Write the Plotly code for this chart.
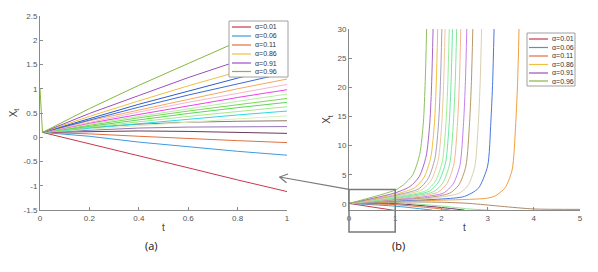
import math
import plotly.graph_objects as go

W, H = 598, 272

# ---------------- data ----------------
alphas = [0.01, 0.06, 0.11, 0.16, 0.21, 0.26, 0.31, 0.36, 0.41, 0.46,
          0.51, 0.56, 0.61, 0.66, 0.71, 0.76, 0.81, 0.86, 0.91, 0.96]
legend_alphas = [0.01, 0.06, 0.11, 0.86, 0.91, 0.96]

# panel (a): X_t at these t values, one row per alpha (ascending)
left_t = [0.01, 0.2, 0.4, 0.6, 0.8, 1.0]
left_x = [
    [0.1, -0.14, -0.39, -0.63, -0.88, -1.12],
    [0.1, 0.02, -0.10, -0.20, -0.29, -0.37],
    [0.1, 0.07, 0.02, -0.03, -0.07, -0.11],
    [0.1, 0.12, 0.13, 0.12, 0.10, 0.08],
    [0.1, 0.15, 0.19, 0.21, 0.22, 0.22],
    [0.1, 0.20, 0.27, 0.31, 0.33, 0.34],
    [0.1, 0.17, 0.24, 0.31, 0.38, 0.44],
    [0.1, 0.19, 0.29, 0.37, 0.46, 0.54],
    [0.1, 0.21, 0.32, 0.43, 0.53, 0.63],
    [0.1, 0.23, 0.36, 0.49, 0.61, 0.72],
    [0.1, 0.25, 0.40, 0.54, 0.67, 0.80],
    [0.1, 0.27, 0.43, 0.59, 0.74, 0.89],
    [0.1, 0.29, 0.47, 0.65, 0.82, 0.98],
    [0.1, 0.31, 0.52, 0.72, 0.91, 1.09],
    [0.1, 0.34, 0.56, 0.78, 1.00, 1.20],
    [0.1, 0.36, 0.62, 0.87, 1.10, 1.33],
    [0.1, 0.39, 0.68, 0.95, 1.22, 1.47],
    [0.1, 0.43, 0.75, 1.06, 1.35, 1.64],
    [0.1, 0.49, 0.86, 1.23, 1.57, 1.91],
    [0.1, 0.59, 1.07, 1.52, 1.97, 2.39],
]
# initial point of the alpha=0.96 curve at t=0
left_start_t = [0.0]
left_start_x = [1.0]

# panel (b): each curve has its own sample times (rows by alpha ascending)
right_t = [
    [0, 1.0],
    [0, 1.0, 1.8],
    [0, 1.0, 2.0, 2.2],
    [0, 1.0, 2.0, 2.5],
    [0, 1.0, 2.0, 2.6, 3.05],
    [0, 1.0, 2.0, 2.6, 3.3, 4.0, 5.0],
    [0, 1.0, 2.0, 3.0, 3.18, 3.38, 3.53, 3.61, 3.65, 3.68],
    [0, 1.0, 2.0, 2.5, 2.8, 3.0, 3.07, 3.11, 3.14],
    [0, 1.0, 1.8, 2.37, 2.57, 2.72, 2.80, 2.84, 2.87],
    [0, 1.0, 1.7, 2.18, 2.38, 2.53, 2.61, 2.65, 2.68],
    [0, 1.0, 1.6, 2.05, 2.25, 2.40, 2.48, 2.52, 2.55],
    [0, 1.0, 1.5, 1.92, 2.12, 2.27, 2.35, 2.39, 2.42],
    [0, 1.0, 1.83, 2.03, 2.18, 2.26, 2.30, 2.33],
    [0, 1.0, 1.74, 1.94, 2.09, 2.17, 2.21, 2.24],
    [0, 1.0, 1.67, 1.87, 2.02, 2.10, 2.14, 2.17],
    [0, 1.0, 1.58, 1.78, 1.93, 2.01, 2.05, 2.08],
    [0, 1.0, 1.51, 1.71, 1.86, 1.94, 1.98, 2.01],
    [0, 1.0, 1.42, 1.62, 1.77, 1.85, 1.89, 1.92],
    [0, 1.0, 1.32, 1.52, 1.67, 1.75, 1.79, 1.82],
    [0, 1.0, 1.18, 1.38, 1.53, 1.61, 1.65, 1.68],
]
right_x = [
    [0.1, -1.12],
    [0.1, -0.37, -1.05],
    [0.1, -0.11, -0.85, -1.05],
    [0.1, 0.08, -0.6, -1.05],
    [0.1, 0.22, -0.35, -0.85, -1.05],
    [0.1, 0.34, 0.30, 0.10, -0.40, -0.85, -0.92],
    [0.1, 0.44, 0.65, 1.0, 1.45, 2.8, 5.8, 14, 21, 30],
    [0.1, 0.54, 0.85, 1.3, 2.7, 6.5, 14, 21, 30],
    [0.1, 0.63, 1.0, 1.8, 3.1, 6.3, 14, 21, 30],
    [0.1, 0.72, 1.1, 1.85, 3.3, 6.5, 14, 21, 30],
    [0.1, 0.80, 1.2, 1.9, 3.4, 6.6, 14, 21, 30],
    [0.1, 0.89, 1.3, 2.0, 3.5, 6.8, 14, 21, 30],
    [0.1, 0.98, 2.1, 3.6, 6.9, 14, 21, 30],
    [0.1, 1.09, 2.2, 3.8, 7.1, 14, 21, 30],
    [0.1, 1.20, 2.3, 3.9, 7.3, 14, 21, 30],
    [0.1, 1.33, 2.45, 4.1, 7.5, 14, 21, 30],
    [0.1, 1.47, 2.6, 4.3, 7.8, 14, 21, 30],
    [0.1, 1.64, 2.8, 4.5, 8.0, 14, 21, 30],
    [0.1, 1.91, 3.0, 4.7, 8.2, 14, 21, 30],
    [0.1, 2.39, 3.3, 5.0, 8.5, 14, 21, 30],
]

left_xticks = [0, 0.2, 0.4, 0.6, 0.8, 1]
left_xticklabels = ["0", "0.2", "0.4", "0.6", "0.8", "1"]
left_yticks = [-1.5, -1, -0.5, 0, 0.5, 1, 1.5, 2, 2.5]
left_yticklabels = ["-1.5", "-1", "-0.5", "0", "0.5", "1", "1.5", "2", "2.5"]
right_xticks = [0, 1, 2, 3, 4, 5]
right_yticks = [0, 5, 10, 15, 20, 25, 30]

# ---------------- styles ----------------
left_colors = ["#C8374B", "#3E9BDD", "#E2703F", "#6B3A5C", "#9274B4", "#8C7B6C",
               "#D4F0BC", "#2ED8E8", "#A8E88A", "#58D858", "#78D850", "#B0F0A0",
               "#F040F0", "#F4B8C8", "#F4A860", "#3C6AD8", "#2E5CC8", "#F2C040",
               "#9B4FC0", "#86B840"]
right_colors = ["#C8374B", "#3E9BDD", "#E2703F", "#6B3A5C", "#90E890", "#B08A6A",
                "#F0A040", "#4A78E0", "#D8D0B0", "#B89868", "#C880F0", "#F4B890",
                "#88E898", "#70E8A8", "#98F098", "#F0C8A0", "#A8A0C0", "#F2C040",
                "#A868C8", "#90C060"]

FONT = "Liberation Sans"
AX_COLOR = "#8a8a8a"
DECO = "#7a7a7a"
TICK_FONT = dict(family=FONT, size=8, color="#555555")
TITLE_FONT = dict(family=FONT, size=10, color="#444444")

fig = go.Figure()

for i, a in enumerate(alphas):
    tt = list(left_t)
    xx = list(left_x[i])
    if i == len(alphas) - 1:
        tt = left_start_t + tt
        xx = left_start_x + xx
    fig.add_trace(go.Scatter(x=tt, y=xx, mode="lines", xaxis="x", yaxis="y",
                             line=dict(color=left_colors[i], width=1),
                             name=f"α={a:.2f}", showlegend=False, hoverinfo="skip"))

for i, a in enumerate(alphas):
    fig.add_trace(go.Scatter(x=right_t[i], y=right_x[i], mode="lines", xaxis="x2", yaxis="y2",
                             line=dict(color=right_colors[i], width=1, shape="spline", smoothing=0.7),
                             name=f"α={a:.2f}", showlegend=False, hoverinfo="skip"))

def px(x):
    return x / W

def py(y):
    return 1 - y / H

xdom1 = [px(40), px(287)]
ydom1 = [py(210), py(16)]
xdom2 = [px(349), px(580)]
ydom2 = [py(210), py(29)]
xr1, yr1 = [0, 1], [-1.5, 2.5]
xr2, yr2 = [0, 5], [-1.03, 30]

axis_common = dict(showline=True, linecolor=AX_COLOR, linewidth=1, ticks="inside",
                   ticklen=3, tickcolor=AX_COLOR, showgrid=False, zeroline=False,
                   tickfont=TICK_FONT, fixedrange=True, automargin=False)

fig.update_layout(
    width=W, height=H, margin=dict(l=0, r=0, t=0, b=0, autoexpand=False),
    paper_bgcolor="white", plot_bgcolor="white", showlegend=False,
    xaxis=dict(domain=xdom1, range=xr1, anchor="y", tickvals=left_xticks,
               ticktext=left_xticklabels,
               title=dict(text="t", font=TITLE_FONT, standoff=2), **axis_common),
    yaxis=dict(domain=ydom1, range=yr1, anchor="x", tickvals=left_yticks,
               ticktext=left_yticklabels,
               title=dict(text="X<sub>t</sub>", font=TITLE_FONT, standoff=4), **axis_common),
    xaxis2=dict(domain=xdom2, range=xr2, anchor="y2", tickvals=right_xticks,
                title=dict(text="t", font=TITLE_FONT, standoff=2), **axis_common),
    yaxis2=dict(domain=ydom2, range=yr2, anchor="x2", tickvals=right_yticks,
                title=dict(text="X<sub>t</sub>", font=TITLE_FONT, standoff=4), **axis_common),
)

def to_paper(v, r, d):
    return d[0] + (v - r[0]) / (r[1] - r[0]) * (d[1] - d[0])

shapes = []
annotations = []

# zoom rectangle in panel (b): t in [0,1], X in [-4.8, 2.5]
rx0, rx1 = to_paper(0, xr2, xdom2), to_paper(1, xr2, xdom2)
ry0, ry1 = to_paper(-4.8, yr2, ydom2), to_paper(2.5, yr2, ydom2)
shapes.append(dict(type="rect", xref="paper", yref="paper", x0=rx0, x1=rx1, y0=ry0, y1=ry1,
                   line=dict(color=DECO, width=1.5), fillcolor="rgba(0,0,0,0)"))

# arrow from the rectangle corner to panel (a), drawn as line shapes
head_t, head_x = 0.97, -0.82
hx = to_paper(head_t, xr1, xdom1)
hy = to_paper(head_x, yr1, ydom1)
shapes.append(dict(type="line", xref="paper", yref="paper", x0=rx0, y0=ry1, x1=hx, y1=hy,
                   line=dict(color=DECO, width=1.2)))
# chevron head (pixel space)
hpx, hpy = hx * W, (1 - hy) * H
tpx, tpy = rx0 * W, (1 - ry1) * H
dx, dy = tpx - hpx, tpy - hpy
dl = math.hypot(dx, dy)
ux, uy = dx / dl, dy / dl
for sgn in (1, -1):
    ang = math.radians(30) * sgn
    vx = ux * math.cos(ang) - uy * math.sin(ang)
    vy = ux * math.sin(ang) + uy * math.cos(ang)
    ex, ey = hpx + 9 * vx, hpy + 9 * vy
    shapes.append(dict(type="line", xref="paper", yref="paper", x0=hx, y0=hy,
                       x1=ex / W, y1=1 - ey / H, line=dict(color=DECO, width=1.2)))

# custom legends
def add_legend(box, line_x0, line_x1, text_x, rows):
    x0, y0, x1, y1 = box
    shapes.append(dict(type="rect", xref="paper", yref="paper", x0=px(x0), x1=px(x1),
                       y0=py(y1), y1=py(y0), line=dict(color="#a0a0a0", width=1),
                       fillcolor="white", layer="above"))
    for k, a in enumerate(legend_alphas):
        idx = alphas.index(a)
        yy = rows[k]
        shapes.append(dict(type="line", xref="paper", yref="paper", x0=px(line_x0), x1=px(line_x1),
                           y0=py(yy), y1=py(yy), line=dict(color=left_colors[idx], width=1.2),
                           layer="above"))
        annotations.append(dict(x=px(text_x), y=py(yy), xref="paper", yref="paper",
                                text=f"α={a:.2f}", showarrow=False, xanchor="left",
                                yanchor="middle", font=dict(family=FONT, size=7, color="#333333")))

add_legend((229, 21, 288, 77), 232, 251, 253, [27, 36, 45, 54, 63, 71.5])
add_legend((527, 33, 575, 86), 529, 548, 549.5, [39, 47.5, 56, 64.5, 73, 81])

# panel labels
panel_font = dict(family="Open Sans", size=11, color="#111111")
annotations.append(dict(x=px(143), y=py(255), xref="paper", yref="paper", text="(a)",
                        showarrow=False, font=panel_font))
annotations.append(dict(x=px(407), y=py(255), xref="paper", yref="paper", text="(b)",
                        showarrow=False, font=panel_font))

fig.update_layout(shapes=shapes, annotations=annotations)
fig.write_html("out.html", config={"displayModeBar": False, "staticPlot": True},
               post_script="document.body.style.margin='0';document.documentElement.style.overflow='hidden';window.dispatchEvent(new Event('resize'));")
